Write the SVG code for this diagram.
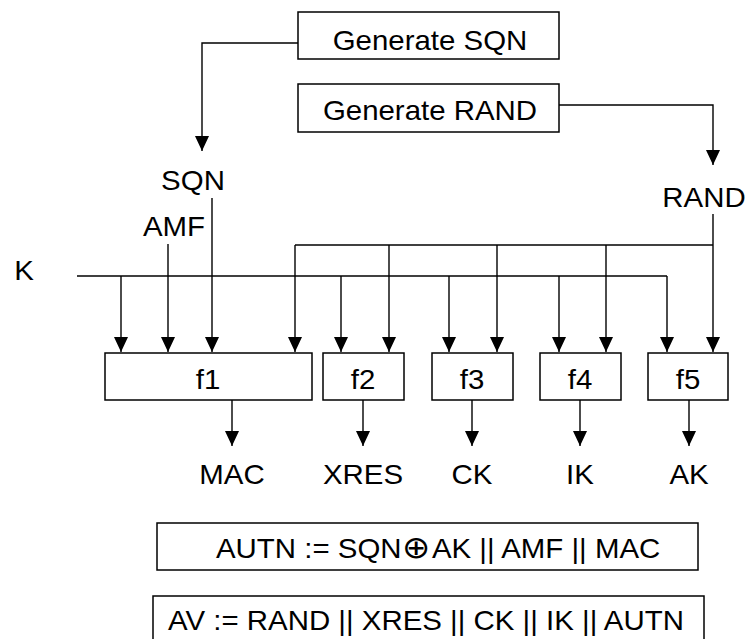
<svg xmlns="http://www.w3.org/2000/svg" width="745" height="639" viewBox="0 0 745 639">
<style>
.box{fill:#fff;stroke:#000;stroke-width:1.5}
.ln{fill:none;stroke:#000;stroke-width:1.4}
.arr{fill:none;stroke:#000;stroke-width:1.4;marker-end:url(#ah)}
text{font-family:"Liberation Sans",Arial,sans-serif;font-size:27px;fill:#000}
.c{text-anchor:middle}
.op{font-family:"DejaVu Sans",sans-serif;font-size:31px;font-weight:200}
</style>
<defs>
<marker id="ah" viewBox="0 0 15 14" refX="15" refY="7" markerWidth="15" markerHeight="14" markerUnits="userSpaceOnUse" orient="auto">
<path d="M0,0 L15,7 L0,14 Z" fill="#000"/>
</marker>
</defs>
<g id="connectors">
<path class="arr" d="M298,43 H202 V151"/>
<path class="arr" d="M559,105 H713 V165"/>
<path class="ln" d="M295,245 H713"/>
<path class="ln" d="M77,276 H667"/>
<path class="arr" d="M121,276 V352"/>
<path class="arr" d="M168,244 V352"/>
<path class="arr" d="M212,198 V352"/>
<path class="arr" d="M295,245 V352"/>
<path class="arr" d="M341,276 V352"/>
<path class="arr" d="M389,245 V352"/>
<path class="arr" d="M449,276 V352"/>
<path class="arr" d="M497,245 V352"/>
<path class="arr" d="M559,276 V352"/>
<path class="arr" d="M606,245 V352"/>
<path class="arr" d="M667,276 V352"/>
<path class="arr" d="M713,214 V352"/>
<path class="arr" d="M232,400 V446"/>
<path class="arr" d="M363,400 V446"/>
<path class="arr" d="M472,400 V446"/>
<path class="arr" d="M580,400 V446"/>
<path class="arr" d="M689,400 V446"/>
</g>
<g id="gen-sqn"><rect class="box" x="298" y="12" width="261" height="47"/><text class="c" transform="translate(430 50) scale(1.09 1)">Generate SQN</text></g>
<g id="gen-rand"><rect class="box" x="298" y="84" width="261" height="48"/><text class="c" transform="translate(430 120) scale(1.09 1)">Generate RAND</text></g>
<g id="sqn"><text class="c" transform="translate(193 190) scale(1.09 1)">SQN</text></g>
<g id="rand"><text class="c" transform="translate(704 207) scale(1.09 1)">RAND</text></g>
<g id="amf"><text class="c" transform="translate(174 236) scale(1.09 1)">AMF</text></g>
<g id="k"><text class="c" transform="translate(24 280) scale(1.09 1)">K</text></g>
<g id="f1"><rect class="box" x="105" y="353" width="207" height="47"/><text class="c" transform="translate(208 389) scale(1.09 1)">f1</text></g>
<g id="f2"><rect class="box" x="323" y="353" width="81" height="47"/><text class="c" transform="translate(363 389) scale(1.09 1)">f2</text></g>
<g id="f3"><rect class="box" x="432" y="353" width="81" height="47"/><text class="c" transform="translate(472 389) scale(1.09 1)">f3</text></g>
<g id="f4"><rect class="box" x="540" y="353" width="81" height="47"/><text class="c" transform="translate(580 389) scale(1.09 1)">f4</text></g>
<g id="f5"><rect class="box" x="648" y="353" width="80" height="47"/><text class="c" transform="translate(688 389) scale(1.09 1)">f5</text></g>
<g id="mac"><text class="c" transform="translate(232 484) scale(1.09 1)">MAC</text></g>
<g id="xres"><text class="c" transform="translate(363 484) scale(1.09 1)">XRES</text></g>
<g id="ck"><text class="c" transform="translate(472 484) scale(1.09 1)">CK</text></g>
<g id="ik"><text class="c" transform="translate(580 484) scale(1.09 1)">IK</text></g>
<g id="ak"><text class="c" transform="translate(689 484) scale(1.09 1)">AK</text></g>
<g id="autn"><rect class="box" x="157" y="523" width="541" height="47"/><text transform="translate(216 558) scale(1.09 1)">AUTN := SQN<tspan class="op">⊕</tspan><tspan dx="2">AK || AMF || MAC</tspan></text></g>
<g id="av"><rect class="box" x="153" y="596" width="551" height="46"/><text transform="translate(168 630) scale(1.09 1)">AV := RAND || XRES || CK || IK || AUTN</text></g>
</svg>
